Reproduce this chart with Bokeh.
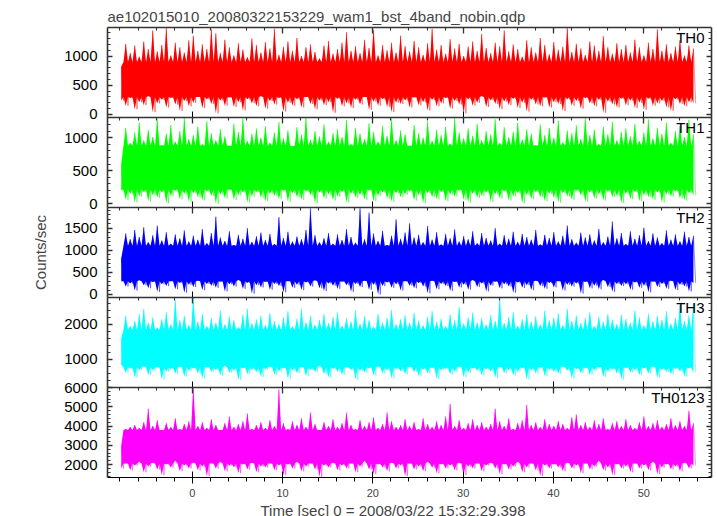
import numpy as np
from bokeh.plotting import figure
from bokeh.layouts import column
from bokeh.models import (Range1d, LinearAxis, SingleIntervalTicker, Label, Title,
                          CustomLabelingPolicy)
from bokeh.embed import file_html
from bokeh.resources import INLINE

# ---------------- data ----------------
TITLE = "ae102015010_20080322153229_wam1_bst_4band_nobin.qdp"
X_LABEL = "Time [sec] 0 = 2008/03/22 15:32:29.398"
Y_LABEL = "Counts/sec"
T_START = -7.86          # first time bin [sec]
T_STOP = 56.0            # end of data [sec]
X_LIMITS = (-9.38, 57.5)

names = ["TH0", "TH1", "TH2", "TH3", "TH0123"]
colors = ["#ff0000", "#00ff00", "#0000ff", "#00ffff", "#ff00ff"]
y_limits = [(-52, 1490), (-56, 1307), (-68, 1968), (200, 2771), (1330, 6000)]
y_major = [500, 500, 500, 1000, 1000]
# extent of the dense core of each light curve (counts/sec)
core_top = [900, 880, 1100, 1850, 3800]
core_bottom = [300, 220, 300, 780, 2050]

th0_hi = [820, 1210, 1050, 1180, 990, 1250, 1120, 1440, 1080, 1190, 1480, 1010, 1230, 1150, 1060, 1270,
          1350, 1090, 1200, 1120, 1460, 1390, 1050, 1280, 1150, 1010, 1220, 1110, 980, 1300, 1190, 1060,
          1240, 1130, 1470, 1020, 1160, 1250, 1090, 1310, 1000, 1150, 1200, 1070, 960, 1180, 1260, 1040,
          1120, 1230, 1410, 1090, 1170, 1050, 1280, 1140, 1450, 1010, 1190, 1100, 1230, 1060, 1350, 1170,
          1080, 1260, 1150, 1020, 1220, 1470, 1110, 1190, 1040, 1290, 1130, 1210, 1000, 1160, 1250, 1090,
          1380, 1140, 1050, 1230, 1170, 1440, 1080, 1200, 1120, 990, 1270, 1150, 1060, 1310, 1190, 1030,
          1240, 1110, 1160, 1480, 1070, 1210, 1130, 1020, 1250, 1180, 1090, 1340, 1150, 1040, 1220, 1120,
          1190, 1060, 1280, 1150, 1010, 1230, 1120, 1460, 1090, 1200, 1050, 1160, 1270, 1010, 1180, 1130]
th0_lo = [240, 150, 280, 90, 210, 160, 310, 40, 190, 250, 120, 280, 170, 60, 230, 140,
          200, 300, 110, 260, 180, 20, 240, 150, 290, 130, 210, 70, 260, 190, 140, 310,
          100, 230, 170, 280, 50, 200, 150, 260, 120, 300, 180, 90, 240, 160, 210, 30,
          270, 140, 190, 110, 250, 170, 300, 80, 220, 150, 260, 130, 40, 200, 180, 240,
          120, 290, 160, 210, 70, 250, 140, 190, 280, 100, 230, 170, 20, 260, 150, 200,
          310, 130, 240, 180, 90, 220, 160, 270, 110, 200, 50, 250, 170, 140, 290, 120,
          210, 180, 60, 260, 150, 230, 100, 280, 190, 140, 250, 30, 220, 170, 120, 270,
          160, 240, 110, 200, 80, 270, 150, 190, 230, 120, 60, 260, 180, 140, 210, 190]

th1_hi = [600, 1150, 920, 1080, 1230, 960, 1120, 1010, 1280, 890, 1060, 1190, 940, 1100, 1300, 980,
          1040, 1170, 900, 1250, 1070, 960, 1130, 1020, 880, 1210, 1090, 1290, 950, 1060, 1140, 1000,
          1180, 920, 1080, 1240, 990, 1110, 870, 1160, 1050, 1300, 970, 1100, 1020, 1200, 940, 1070,
          1130, 1010, 1270, 900, 1150, 1060, 980, 1220, 1090, 940, 1180, 1030, 1290, 960, 1110, 1050,
          880, 1190, 1070, 1000, 1250, 950, 1120, 1040, 1170, 910, 1300, 1080, 990, 1140, 1030, 1210,
          960, 1100, 1050, 1280, 920, 1160, 1010, 1090, 1230, 970, 1130, 1060, 890, 1200, 1040, 1150,
          1000, 1260, 930, 1110, 1070, 1190, 980, 1300, 1040, 1120, 900, 1170, 1050, 1240, 960, 1090,
          1140, 1020, 1210, 950, 1080, 1280, 990, 1150, 1060, 1230, 920, 1100, 1180, 1010, 1270, 1050]
th1_lo = [200, 60, 150, 20, 110, 180, 40, 130, 90, 170, 10, 120, 200, 70, 150, 30,
          160, 100, 50, 190, 120, 0, 140, 80, 210, 60, 130, 170, 20, 110, 180, 90,
          40, 150, 120, 70, 200, 30, 160, 100, 60, 190, 130, 10, 170, 80, 140, 50,
          110, 180, 20, 150, 90, 130, 60, 200, 40, 120, 170, 80, 30, 160, 100, 140,
          190, 50, 130, 10, 160, 100, 70, 180, 40, 140, 110, 200, 60, 20, 150, 90,
          120, 170, 30, 140, 80, 190, 50, 110, 160, 10, 130, 70, 180, 100, 40, 150,
          90, 20, 160, 110, 60, 200, 130, 30, 170, 80, 140, 50, 190, 100, 120, 10,
          150, 70, 180, 40, 130, 100, 60, 170, 20, 140, 110, 190, 80, 50, 160, 120]

th2_hi = [820, 1380, 1250, 1460, 1300, 1520, 1180, 1340, 1560, 1220, 1410, 1150, 1360, 1270, 1450, 1200,
          1330, 1240, 1480, 1160, 1390, 1760, 1290, 1210, 1430, 1120, 1350, 1260, 1500, 1190, 1320, 1400,
          1230, 1370, 1140, 1750, 1280, 1420, 1200, 1310, 1250, 1460, 1950, 1340, 1180, 1270, 1390, 1150,
          1360, 1230, 1480, 1300, 1170, 1950, 1250, 1850, 1380, 1210, 1440, 1120, 1330, 1700, 1260, 1400,
          1610, 1290, 1350, 1180, 1550, 1240, 1410, 1130, 1370, 1270, 1470, 1200, 1320, 1250, 1430, 1160,
          1390, 1280, 1220, 1500, 1150, 1340, 1260, 1420, 1190, 1370, 1300, 1240, 1460, 1130, 1350, 1280,
          1410, 1200, 1330, 1560, 1250, 1170, 1400, 1290, 1360, 1220, 1480, 1180, 1310, 1650, 1270, 1390,
          1140, 1430, 1260, 1340, 1510, 1210, 1380, 1290, 1160, 1450, 1240, 1360, 1200, 1420, 1300, 1330]
th2_lo = [300, 180, 250, 90, 320, 210, 140, 280, 60, 230, 190, 300, 120, 260, 40, 220,
          170, 310, 100, 240, 200, 150, 290, 70, 230, 180, 330, 130, 260, 20, 210, 160,
          280, 110, 240, 190, 50, 300, 150, 220, 100, 270, 180, 320, 140, 80, 250, 200,
          130, 290, 210, 60, 240, 170, 310, 110, 220, 0, 190, 270, 150, 230, 90, 300,
          200, 140, 260, 180, 30, 310, 120, 240, 190, 80, 280, 160, 220, 110, 330, 170,
          250, 70, 200, 290, 140, 230, 180, 40, 270, 150, 210, 100, 310, 190, 130, 260,
          160, 300, 90, 220, 180, 250, 20, 280, 140, 200, 120, 330, 170, 60, 240, 190,
          230, 110, 270, 150, 200, 50, 290, 170, 240, 130, 310, 100, 220, 180, 70, 260]

th3_hi = [1600, 2250, 1950, 2100, 2300, 2450, 2050, 2200, 1900, 2150, 2350, 2000, 2700, 2120, 2250, 1980,
          2760, 2080, 2300, 1950, 2180, 2050, 2400, 2000, 2220, 2120, 1920, 2280, 2450, 2030, 2150, 2250,
          1980, 2320, 2100, 2000, 2200, 2380, 1940, 2160, 2450, 2060, 2250, 1990, 2130, 2300, 2040, 2210,
          2350, 1960, 2180, 2080, 2400, 2020, 2240, 2120, 1930, 2300, 2060, 2190, 2420, 2000, 2150, 2260,
          2050, 2330, 2110, 1970, 2220, 2380, 2080, 2160, 1950, 2280, 2120, 2500, 2030, 2200, 2340, 2060,
          2180, 1990, 2270, 2100, 2760, 2040, 2210, 2350, 1960, 2150, 2300, 2080, 2230, 2000, 2400, 2120,
          2190, 2320, 1980, 2450, 2100, 2260, 2040, 2180, 2350, 1950, 2220, 2080, 2300, 2140, 2010, 2280,
          2160, 2050, 2400, 2200, 1970, 2310, 2090, 2250, 2130, 2380, 2020, 2190, 2550, 2100, 2260, 2600]
th3_lo = [850, 620, 740, 480, 700, 810, 560, 690, 770, 430, 650, 720, 590, 800, 510, 680,
          740, 600, 460, 780, 650, 700, 540, 820, 620, 680, 410, 750, 580, 700, 640, 500,
          720, 800, 560, 660, 740, 450, 690, 610, 780, 530, 700, 640, 820, 580, 480, 730,
          650, 560, 770, 700, 420, 680, 620, 750, 540, 810, 600, 690, 460, 730, 660, 580,
          790, 640, 520, 710, 600, 760, 440, 690, 730, 570, 650, 800, 500, 620, 740, 680,
          550, 720, 660, 470, 780, 610, 700, 540, 650, 750, 430, 690, 600, 770, 520, 710,
          640, 590, 800, 680, 450, 720, 610, 740, 560, 690, 780, 500, 650, 710, 600, 420,
          760, 630, 690, 550, 740, 600, 800, 480, 700, 640, 570, 730, 660, 510, 750, 620]

th0123_hi = [3000, 3850, 3950, 4050, 3900, 4200, 4900, 4000, 4300, 3800, 4150, 3950, 4400, 3850, 4100, 4250,
             5980, 4000, 4200, 3900, 4350, 4050, 3800, 4150, 4500, 3950, 4100, 4250, 4650, 3850, 4050, 4200,
             3900, 4300, 4000, 5900, 4150, 3850, 4250, 4050, 4400, 3950, 4700, 4100, 3800, 4200, 4000, 4350,
             3950, 4150, 4700, 4050, 3850, 4300, 4000, 4200, 4450, 3900, 4100, 4700, 4250, 3950, 4050, 4350,
             4000, 4200, 3850, 4400, 4100, 3950, 4250, 4050, 4500, 5150, 4000, 4300, 3900, 4150, 4350, 4050,
             4200, 3950, 4100, 4900, 4250, 4000, 4400, 3850, 4150, 4300, 5100, 4050, 4200, 3950, 4350, 4100,
             4000, 4250, 4100, 3900, 4450, 4600, 4050, 4200, 3950, 4300, 4100, 4400, 3850, 4150, 4250, 4000,
             4350, 4050, 3900, 4200, 4500, 4000, 4150, 4300, 3950, 4100, 4400, 4050, 4250, 4000, 4800, 4150]
th0123_lo = [1800, 2050, 1700, 1950, 2150, 1600, 1900, 2100, 1750, 1450, 2000, 1850, 2200, 1650, 1950, 1800,
             2100, 1700, 1900, 1400, 2050, 1800, 2150, 1650, 1950, 1850, 1550, 2000, 1750, 2100, 1600, 1900,
             1850, 2050, 1700, 1950, 1450, 2000, 1800, 2150, 1650, 1900, 2050, 1750, 1350, 1950, 1850, 2100,
             1700, 1950, 1800, 2050, 1600, 1900, 2200, 1750, 1500, 2000, 1850, 1650, 2100, 1800, 1950, 1400,
             2050, 1750, 1900, 1650, 2150, 1850, 1550, 2000, 1800, 1950, 1700, 2100, 1450, 1900, 1800, 2050,
             1650, 1950, 2100, 1800, 1500, 2000, 1750, 1900, 2150, 1600, 1850, 2050, 1700, 1400, 1950, 1800,
             2000, 1850, 1650, 2100, 1800, 1950, 1550, 2050, 1750, 1900, 2200, 1700, 1850, 1450, 2000, 1800,
             1900, 1600, 2050, 1800, 1950, 1700, 2150, 1500, 1850, 2000, 1750, 1900, 1650, 2100, 1800, 1950]

series_hi = [th0_hi, th1_hi, th2_hi, th3_hi, th0123_hi]
series_lo = [th0_lo, th1_lo, th2_lo, th3_lo, th0123_lo]

# ---------------- styling ----------------
FONT = "Liberation Sans"
FS = "15px"
AX = "#333333"
GAP = 30

xr = Range1d(*X_LIMITS)


def style_axis(ax, show_labels):
    ax.axis_line_color = AX
    ax.axis_line_width = 1.6
    ax.major_tick_line_color = AX
    ax.minor_tick_line_color = AX
    ax.major_tick_line_width = 1.3
    ax.minor_tick_line_width = 1.1
    ax.major_tick_out = 0
    ax.minor_tick_out = 0
    ax.minor_tick_in = 3
    if show_labels:
        ax.major_label_text_font = FONT
        ax.major_label_text_font_size = FS
        ax.major_label_text_color = "black"
    else:
        ax.major_label_text_font_size = "0px"
        ax.major_label_standoff = 0
        ax.major_label_policy = CustomLabelingPolicy(code="return []")


figs = []
for k in range(5):
    first = k == 0
    last = k == 4
    hi = np.asarray(series_hi[k], dtype=float)
    lo = np.asarray(series_lo[k], dtype=float)
    n = len(hi)
    dt = (T_STOP - T_START) / n
    t = T_START + dt * np.arange(n)
    xs = np.column_stack([t, t + dt / 2]).ravel()[:-1]
    top = np.column_stack([hi, np.full(n, core_top[k])]).ravel()[:-1]
    bot = np.column_stack([lo, np.full(n, core_bottom[k])]).ravel()[:-1]
    zig_y = np.column_stack([hi, lo]).ravel()

    p = figure(frame_width=604, frame_height=90, x_range=xr,
               y_range=Range1d(*y_limits[k]),
               output_backend="svg", toolbar_location=None,
               min_border_left=107, min_border_right=4,
               min_border_top=27 if first else GAP,
               min_border_bottom=39 if last else GAP,
               border_fill_alpha=0, background_fill_color="white",
               styles={} if first else {"margin-top": "-%dpx" % (2 * GAP)})
    p.grid.visible = False
    p.outline_line_color = None

    p.varea(x=xs, y1=bot, y2=top, fill_color=colors[k])
    p.line(np.column_stack([t, t + dt / 2]).ravel(), zig_y,
           line_color=colors[k], line_width=0.8, line_alpha=0.55)

    p.xaxis.ticker = SingleIntervalTicker(interval=10, num_minor_ticks=5)
    p.yaxis.ticker = SingleIntervalTicker(interval=y_major[k], num_minor_ticks=5)
    top_ax = LinearAxis(ticker=SingleIntervalTicker(interval=10, num_minor_ticks=5))
    right_ax = LinearAxis(ticker=SingleIntervalTicker(interval=y_major[k], num_minor_ticks=5))
    p.add_layout(top_ax, "above")
    p.add_layout(right_ax, "right")

    for ax in p.xaxis:
        ax.major_tick_in = 6
    for ax in p.yaxis:
        ax.major_tick_in = 5

    style_axis(p.xaxis[0], last)
    style_axis(top_ax, False)
    style_axis(p.yaxis[0], True)
    style_axis(right_ax, False)
    p.yaxis[0].major_label_standoff = 10
    if last:
        p.xaxis[0].major_label_standoff = 0

    if k == 2:
        p.yaxis[0].axis_label = Y_LABEL
        p.yaxis[0].axis_label_text_font = FONT
        p.yaxis[0].axis_label_text_font_size = FS
        p.yaxis[0].axis_label_text_font_style = "normal"
        p.yaxis[0].axis_label_standoff = 12

    p.add_layout(Label(x=X_LIMITS[1], y=y_limits[k][1], x_offset=-7, y_offset=-1,
                       text=names[k], text_align="right", text_baseline="top",
                       text_font=FONT, text_font_size=FS, text_color="black"))

    if first:
        p.title.text = TITLE
        p.title.text_font = FONT
        p.title.text_font_size = FS
        p.title.text_font_style = "normal"
        p.title.align = "left"
        p.title.standoff = 6
    if last:
        p.add_layout(Title(text=X_LABEL, align="left", offset=153, text_font=FONT,
                           text_font_size=FS, text_font_style="normal", standoff=0), "below")
    figs.append(p)

layout = column(*figs)
open("out.html", "w").write(file_html(layout, INLINE))
